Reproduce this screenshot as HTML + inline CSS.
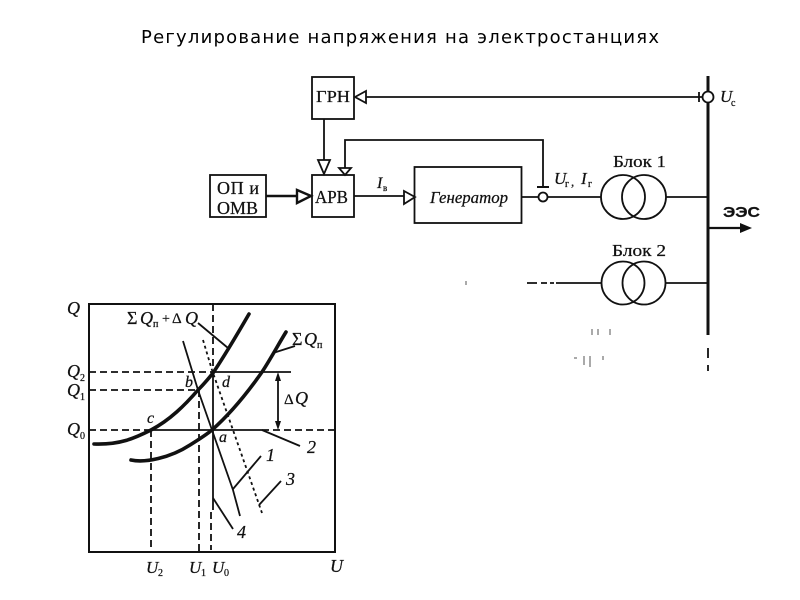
<!DOCTYPE html>
<html lang="ru">
<head>
<meta charset="utf-8">
<style>
html,body{margin:0;padding:0;background:#fff;}
svg{display:block;}
text{fill:#111;stroke:#111;stroke-width:.25;font-family:"Liberation Serif","Noto Serif CJK SC",serif;}
.i{font-style:italic;}
.l{fill:none;stroke:#111;stroke-width:1.8;}
.t{fill:none;stroke:#111;stroke-width:3.6;stroke-linecap:round;}
.d{fill:none;stroke:#111;stroke-width:1.8;stroke-dasharray:7 4;}
.w{fill:#fff;stroke:#111;stroke-width:1.8;}
</style>
</head>
<body>
<svg width="800" height="600" viewBox="0 0 800 600" xmlns="http://www.w3.org/2000/svg">
<rect width="800" height="600" fill="#fff"/>
<text x="141" y="43" textLength="518" lengthAdjust="spacing" style="font-family:'DejaVu Sans','Liberation Sans',sans-serif;font-size:18px;fill:#000;stroke:none">Регулирование напряжения на электростанциях</text>

<!-- Block diagram -->
<rect class="l" x="312" y="77" width="42" height="42"/>
<text x="316" y="102" textLength="34" lengthAdjust="spacingAndGlyphs" font-size="17">ГРН</text>
<rect class="l" x="312" y="175" width="42" height="42"/>
<text x="315" y="203" textLength="33" lengthAdjust="spacingAndGlyphs" font-size="18">АРВ</text>
<rect class="l" x="210" y="175" width="56" height="42"/>
<text x="217" y="194" textLength="42" lengthAdjust="spacing" font-size="18">ОП и</text>
<text x="217" y="214" textLength="41" lengthAdjust="spacingAndGlyphs" font-size="18">ОМВ</text>
<rect class="l" x="414.500" y="167" width="107" height="56"/>
<text x="430" y="203" textLength="78" lengthAdjust="spacingAndGlyphs" font-size="17" class="i">Генератор</text>

<path class="l" d="M324 119V160"/>
<path class="w" d="M318 160H330L324 174Z"/>
<path class="l" d="M345 168V140H543V186"/>
<path class="w" d="M339 168H351L345 175Z"/>
<path class="l" d="M537 187H549" style="stroke-width:2"/>
<circle class="w" cx="543" cy="197" r="4.500"/>
<path class="l" d="M266 196H297" style="stroke-width:2.600"/>
<path class="w" d="M297 190V203L311 196Z" style="stroke-width:2.400"/>
<path class="l" d="M354 196H404"/>
<path class="w" d="M404 191V204L415 197Z"/>
<path class="l" d="M522 197H538.500M547.500 197H601"/>
<path class="l" d="M366 97H702M699 92V102"/>
<path class="w" d="M355 97L366 91V103Z"/>
<path d="M708 76V92M708 102V335" fill="none" stroke="#111" stroke-width="3"/>
<path d="M708 348V358M708 365V371" fill="none" stroke="#111" stroke-width="1.800"/>
<circle class="w" cx="708" cy="97" r="5.500"/>

<circle class="l" cx="623" cy="197" r="22"/>
<circle class="l" cx="644" cy="197" r="22"/>
<path class="l" d="M666 197H708"/>
<circle class="l" cx="623" cy="283" r="21.500"/>
<circle class="l" cx="644" cy="283" r="21.500"/>
<path class="l" d="M666 283H708M556 283H601"/>
<path class="l" d="M527 283H537M541 283H547M550 283H554"/>
<path d="M708 228H742" fill="none" stroke="#111" stroke-width="2.200"/>
<path d="M740 223L752 228L740 233Z" fill="#111"/>

<text x="377" y="188" class="i" font-size="16">I</text>
<text x="383" y="191" font-size="9">в</text>
<text x="554" y="184" class="i" font-size="17">U</text>
<text x="565" y="187" font-size="10">г</text>
<text x="571" y="186" font-size="13">,</text>
<text x="581" y="184" class="i" font-size="17">I</text>
<text x="588" y="187" font-size="10">г</text>
<text x="720" y="102" class="i" font-size="17">U</text>
<text x="731" y="106" font-size="10">с</text>
<text x="613" y="167" textLength="53" lengthAdjust="spacingAndGlyphs" font-size="17">Блок 1</text>
<text x="612" y="256" textLength="54" lengthAdjust="spacingAndGlyphs" font-size="17">Блок 2</text>
<text x="723" y="217" textLength="37" lengthAdjust="spacingAndGlyphs" font-size="15" font-weight="bold" style="font-family:'Liberation Sans',sans-serif">ЭЭС</text>

<!-- Specks -->
<path d="M466 281V285M592 329V335M598 329V335M610 329V335M574 358H577M584 356V365M590 356V367M603 356V360" fill="none" stroke="#555" stroke-width="1"/>

<!-- Chart -->
<path class="l" d="M89 304H335V552H89Z" style="stroke-width:2"/>
<path class="d" d="M89 372H213M89 390H198M89 430H151M262 430H335"/>
<path class="l" d="M213 372H291M151 430H262"/>
<path class="d" d="M213 304V373M199 390V552M151 430V552M211 512V550"/>
<path class="l" d="M213 373V510"/>
<path class="t" d="M94 444C120 445 135 438 151 430C170 420 185 405 198 390C205 383 209 378 213 373C225 355 238 333 249 314"/>
<path class="t" d="M131 460C145 463 170 458 190 445C198 440 206 435 212 430C230 414 248 392 262 372C270 360 278 345 286 332"/>
<path class="l" d="M183 341L198 390L212 430L233 490L240 516"/>
<path d="M203 340L212 370L262 513" fill="none" stroke="#111" stroke-width="1.800" stroke-dasharray="3 3"/>
<path class="l" d="M213 498L233 529"/>
<path class="l" d="M198 323L228 348"/>
<path class="l" d="M273 353L295 346"/>
<path class="l" d="M262 430L300 446"/>
<path class="l" d="M233 489L261 456"/>
<path class="l" d="M259 505L281 481"/>
<path class="l" d="M278 376V426"/>
<path d="M278 372L275 381H281ZM278 430L275 421H281Z" fill="#111"/>

<text x="67" y="314" class="i" font-size="18">Q</text>
<text x="67" y="377" class="i" font-size="18">Q</text><text x="80" y="381" font-size="10">2</text>
<text x="67" y="396" class="i" font-size="18">Q</text><text x="80" y="400" font-size="10">1</text>
<text x="67" y="435" class="i" font-size="18">Q</text><text x="80" y="439" font-size="10">0</text>
<text x="127" y="324" font-size="18">Σ</text>
<text x="140" y="324" class="i" font-size="18">Q</text><text x="153" y="327" font-size="10">п</text>
<text x="162" y="323" font-size="14">+</text><text x="172" y="323" font-size="15">Δ</text>
<text x="185" y="324" class="i" font-size="18">Q</text>
<text x="292" y="345" font-size="18">Σ</text>
<text x="304" y="345" class="i" font-size="18">Q</text><text x="317" y="348" font-size="10">п</text>
<text x="284" y="404" font-size="15">Δ</text><text x="295" y="404" class="i" font-size="18">Q</text>
<text x="147" y="423" class="i" font-size="16">c</text>
<text x="185" y="387" class="i" font-size="16">b</text>
<text x="222" y="387" class="i" font-size="16">d</text>
<text x="219" y="442" class="i" font-size="16">a</text>
<text x="307" y="453" class="i" font-size="18">2</text>
<text x="266" y="461" class="i" font-size="18">1</text>
<text x="286" y="485" class="i" font-size="18">3</text>
<text x="237" y="538" class="i" font-size="18">4</text>
<text x="146" y="573" class="i" font-size="17">U</text><text x="158" y="576" font-size="10">2</text>
<text x="189" y="573" class="i" font-size="17">U</text><text x="201" y="576" font-size="10">1</text>
<text x="212" y="573" class="i" font-size="17">U</text><text x="224" y="576" font-size="10">0</text>
<text x="330" y="572" class="i" font-size="18">U</text>
</svg>
</body>
</html>
